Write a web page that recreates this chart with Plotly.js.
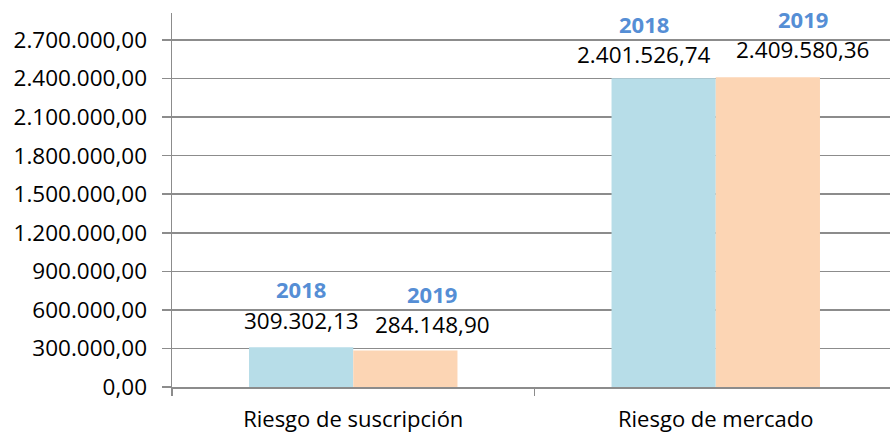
<!DOCTYPE html>
<html>
<head>
<meta charset="utf-8">
<script src="https://cdn.plot.ly/plotly-3.0.1.min.js"></script>
<style>html,body{margin:0;padding:0;background:#fff;overflow:hidden;}#chart{width:897px;height:436px;}</style>
</head>
<body>
<div id="chart"></div>
<script>
const categories = ["Riesgo de suscripción", "Riesgo de mercado"];
const years = ["2018", "2019"];
const values2018 = [309302.13, 2401526.74];
const values2019 = [284148.90, 2409580.36];
const valueLabels2018 = ["309.302,13", "2.401.526,74"];
const valueLabels2019 = ["284.148,90", "2.409.580,36"];
const tickVals = [0, 300000, 600000, 900000, 1200000, 1500000, 1800000, 2100000, 2400000, 2700000];
const tickText = ["0,00", "300.000,00", "600.000,00", "900.000,00", "1.200.000,00", "1.500.000,00", "1.800.000,00", "2.100.000,00", "2.400.000,00", "2.700.000,00"];

const FONT = "'Open Sans', sans-serif";
const colors = ["#B7DDE8", "#FCD5B4"];
const series = [values2018, values2019];
const labels = [valueLabels2018, valueLabels2019];

const traces = series.map((vals, i) => ({
  type: "bar",
  name: years[i],
  x: categories,
  y: vals,
  marker: {color: colors[i], line: {width: 0}},
  hoverinfo: "skip"
}));

// label placement as in the reference: [category][series]
const valueShift = [[27, 25.5], [23.5, 27.5]];
const yearShift = [[58.5, 56], [54, 58.5]];
const xShift = [[0, 27], [-20, 35]];
const offs = [-0.143, 0.143];
const annotations = [];
series.forEach((vals, s) => {
  vals.forEach((v, c) => {
    annotations.push({
      x: c + offs[s], y: v, xref: "x", yref: "y",
      text: labels[s][c], showarrow: false,
      xshift: xShift[c][s], yshift: valueShift[c][s], yanchor: "middle",
      font: {family: FONT, size: 22.5, color: "#000"}
    });
    annotations.push({
      x: c + offs[s], y: v, xref: "x", yref: "y",
      text: "<b>" + years[s] + "</b>", showarrow: false,
      xshift: xShift[c][s], yshift: yearShift[c][s], yanchor: "middle",
      font: {family: FONT, size: 22, color: "#558ED5"}
    });
  });
});

const layout = {
  width: 897, height: 436,
  margin: {l: 172, r: 0, t: 13, b: 49, pad: 0},
  paper_bgcolor: "#fff", plot_bgcolor: "#fff",
  showlegend: false,
  barmode: "group",
  bargap: 0.425,
  bargroupgap: 0,
  font: {family: FONT, size: 22, color: "#000"},
  xaxis: {
    type: "category",
    tickson: "boundaries",
    ticks: "outside", ticklen: 7, tickcolor: "#8c8c8c", tickwidth: 1.5,
    showline: true, linecolor: "#8c8c8c", linewidth: 1.5,
    showgrid: false, zeroline: false,
    tickfont: {family: FONT, size: 22, color: "#000"},
    ticklabelstandoff: 12
  },
  yaxis: {
    range: [0, 2910000],
    tickmode: "array", tickvals: tickVals, ticktext: tickText,
    ticks: "outside", ticklen: 9, tickcolor: "#8c8c8c", tickwidth: 1.5,
    showline: true, linecolor: "#8c8c8c", linewidth: 1.5,
    showgrid: true, gridcolor: "#8c8c8c", gridwidth: 1.5,
    zeroline: false,
    tickfont: {family: FONT, size: 22.5, color: "#000"},
    ticklabelstandoff: 10
  },
  annotations: annotations
};

Plotly.newPlot("chart", traces, layout, {staticPlot: true, displayModeBar: false});
</script>
</body>
</html>
